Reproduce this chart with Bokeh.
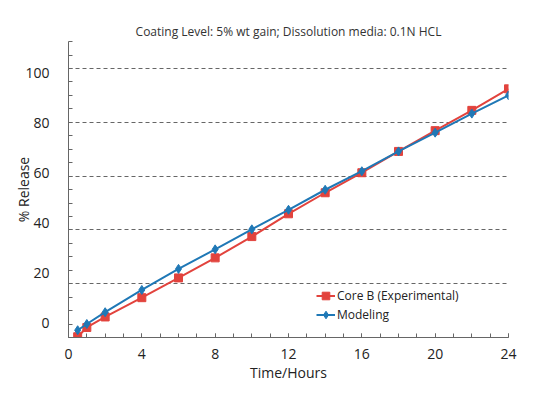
from bokeh.plotting import figure
from bokeh.models import Range1d, FixedTicker, Legend, LegendItem
from bokeh.embed import file_html
from bokeh.resources import INLINE

# Data (y in units of the printed tick labels)
time_h = [0.5, 1, 2, 4, 6, 8, 10, 12, 14, 16, 18, 20, 22, 24]
core_b = [-5.3, -1.6, 2.6, 10.3, 18.2, 26.2, 34.7, 43.8, 52.2, 60.2, 68.7, 77.0, 85.1, 93.7]
modeling = [-2.7, -0.2, 4.5, 13.4, 21.8, 29.6, 37.6, 45.4, 53.4, 60.8, 68.7, 76.2, 83.8, 91.1]
x_ticks = [0, 4, 8, 12, 16, 20, 24]
y_ticks = [0, 20, 40, 60, 80, 100]

FONT = "Open Sans"
RED = "#e2433d"
BLUE = "#1f78b6"
AXIS = "#666666"
TEXT = "#222222"

# axis grid geometry (the printed gridlines are offset from the labels)
y_bottom = -5.6
minor_step = 5.37
y_minor = [y_bottom + minor_step * k for k in range(23)]
y_grid = [y_bottom + minor_step * 4 * k for k in range(1, 6)]

p = figure(width=550, height=397, output_backend="svg", toolbar_location=None,
           x_range=Range1d(0, 24), y_range=Range1d(y_bottom, 112.6),
           min_border_left=68, min_border_right=42, min_border_top=41, min_border_bottom=60)
p.outline_line_color = None
p.background_fill_color = "white"
p.border_fill_color = "white"

p.title.text = "Coating Level: 5% wt gain; Dissolution media: 0.1N HCL"
p.title.align = "center"
p.title.text_font = FONT
p.title.text_font_size = "12px"
p.title.text_font_style = "normal"
p.title.text_color = "#333333"
p.title.standoff = 4

# x axis
p.xaxis.ticker = FixedTicker(ticks=x_ticks, minor_ticks=list(range(0, 25)))
p.xaxis.axis_label = "Time/Hours"
p.xaxis.major_tick_line_color = AXIS
p.xaxis.major_tick_in = 4
p.xaxis.major_tick_out = 0
p.xaxis.minor_tick_in = 4
p.xaxis.minor_tick_out = 0
p.xaxis.major_label_standoff = 11
p.xaxis.axis_label_standoff = 1

# y axis
p.yaxis.ticker = FixedTicker(ticks=y_ticks, minor_ticks=y_minor)
p.yaxis.axis_label = "% Release"
p.yaxis.major_tick_line_color = None
p.yaxis.major_tick_in = 0
p.yaxis.major_tick_out = 0
p.yaxis.minor_tick_in = 4
p.yaxis.minor_tick_out = 0
p.yaxis.major_label_standoff = 19
p.yaxis.axis_label_standoff = -11

for ax in (p.xaxis[0], p.yaxis[0]):
    ax.axis_line_color = AXIS
    ax.minor_tick_line_color = AXIS
    ax.major_label_text_font = FONT
    ax.major_label_text_font_size = "14px"
    ax.major_label_text_color = TEXT
    ax.axis_label_text_font = FONT
    ax.axis_label_text_font_size = "14px"
    ax.axis_label_text_font_style = "normal"
    ax.axis_label_text_color = TEXT

p.xgrid.visible = False
p.ygrid.ticker = FixedTicker(ticks=y_grid)
p.ygrid.grid_line_color = AXIS
p.ygrid.grid_line_dash = "4 3"
p.ygrid.grid_line_width = 1

r1 = p.line(time_h, core_b, line_color=RED, line_width=2)
m1 = p.scatter(time_h, core_b, marker="square", size=8, color=RED)
r2 = p.line(time_h, modeling, line_color=BLUE, line_width=2)
m2 = p.scatter(time_h, modeling, marker="diamond", size=9, color=BLUE)

legend = Legend(items=[LegendItem(label="Core B (Experimental)", renderers=[r1, m1]),
                       LegendItem(label="Modeling", renderers=[r2, m2])],
                location=(248, 13), border_line_color=None, background_fill_alpha=0,
                padding=0, spacing=0, margin=0, glyph_width=19, glyph_height=19,
                label_height=19, label_standoff=2,
                label_text_font=FONT, label_text_font_size="12px", label_text_color=TEXT)
p.add_layout(legend)

open("out.html", "w").write(file_html(p, INLINE))
